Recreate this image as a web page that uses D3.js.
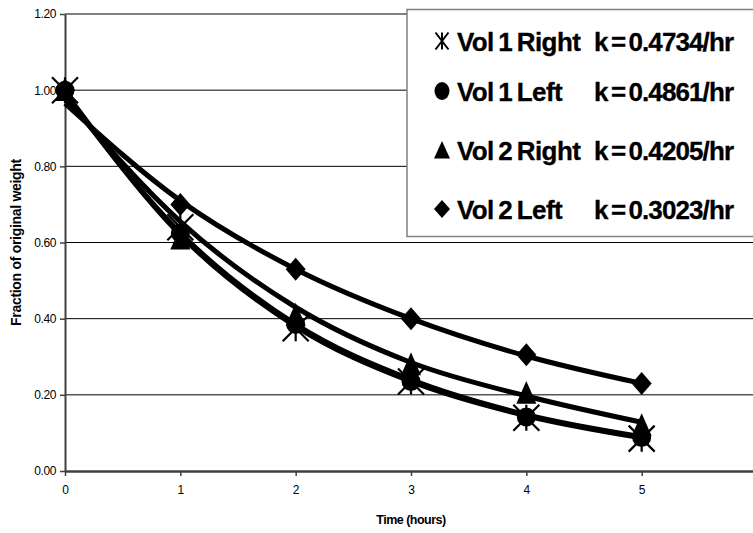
<!DOCTYPE html>
<html>
<head>
<meta charset="utf-8">
<script src="https://cdn.jsdelivr.net/npm/d3@7"></script>
<style>
  html, body { margin: 0; padding: 0; background: #fff; }
  svg { display: block; font-family: Arial, "Liberation Sans", sans-serif; }
</style>
</head>
<body>
<svg id="chart" width="753" height="533"></svg>
<script>
// ---------- data ----------
const hours = [0, 1, 2, 3, 4, 5];
const vol1Right = [1.00, 0.64, 0.375, 0.235, 0.14, 0.085];
const vol1Left  = [1.00, 0.625, 0.385, 0.235, 0.142, 0.088];
const vol2Right = [1.00, 0.61, 0.41, 0.28, 0.205, 0.12];
const vol2Left  = [1.00, 0.70, 0.53, 0.40, 0.305, 0.23];
// fitted curves
const trendVol1Right = [0.99, 0.625, 0.385, 0.24, 0.148, 0.09];
const trendVol1Left  = [0.995, 0.62, 0.38, 0.235, 0.145, 0.087];
const trendVol2Right = [0.98, 0.655, 0.43, 0.285, 0.197, 0.128];
const trendVol2Left  = [0.965, 0.71, 0.53, 0.40, 0.302, 0.23];
const seriesNames = ["Vol 1 Right", "Vol 1 Left", "Vol 2 Right", "Vol 2 Left"];
const rateLabels = ["k = 0.4734/hr", "k = 0.4861/hr", "k = 0.4205/hr", "k = 0.3023/hr"];
const markerTypes = ["star", "circle", "triangle", "diamond"];
const yTicks = [0.00, 0.20, 0.40, 0.60, 0.80, 1.00, 1.20];
const xTicks = [0, 1, 2, 3, 4, 5];
const xTitle = "Time (hours)";
const yTitle = "Fraction of original weight";

const series = [
  { name: seriesNames[0], k: rateLabels[0], marker: markerTypes[0], values: vol1Right, trend: trendVol1Right },
  { name: seriesNames[1], k: rateLabels[1], marker: markerTypes[1], values: vol1Left,  trend: trendVol1Left },
  { name: seriesNames[2], k: rateLabels[2], marker: markerTypes[2], values: vol2Right, trend: trendVol2Right },
  { name: seriesNames[3], k: rateLabels[3], marker: markerTypes[3], values: vol2Left,  trend: trendVol2Left }
];

// ---------- layout ----------
const svg = d3.select("#chart");
const plot = { left: 65, right: 757, top: 14, bottom: 471 };
const x = d3.scaleLinear().domain([0, 6]).range([plot.left, plot.right]);
const y = d3.scaleLinear().domain([0, 1.2]).range([plot.bottom, plot.top]);

// gridlines
svg.append("g").selectAll("line")
  .data(yTicks.filter(v => v > 0 && v < 1.2))
  .join("line")
  .attr("x1", plot.left).attr("x2", plot.right)
  .attr("y1", d => y(d)).attr("y2", d => y(d))
  .attr("stroke", "#000").attr("stroke-width", 1);

// plot border top
svg.append("line")
  .attr("x1", plot.left).attr("x2", plot.right)
  .attr("y1", y(1.2)).attr("y2", y(1.2))
  .attr("stroke", "#808080").attr("stroke-width", 2);

// y axis
const yAxis = d3.axisLeft(y).tickValues(yTicks).tickFormat(d3.format(".2f")).tickSize(5).tickSizeOuter(0);
const gy = svg.append("g").attr("transform", `translate(${plot.left},0)`).call(yAxis);
gy.select(".domain").attr("stroke", "#404040").attr("stroke-width", 2);
gy.selectAll(".tick line").attr("stroke", "#404040").attr("stroke-width", 1.5);
gy.selectAll(".tick text").attr("font-size", 12).attr("fill", "#000").attr("x", -9)
  .attr("font-family", "Arial, 'Liberation Sans', sans-serif").attr("letter-spacing", -0.4);

// x axis
const xAxis = d3.axisBottom(x).tickValues(xTicks).tickFormat(d3.format("d")).tickSize(5).tickSizeOuter(0);
const gx = svg.append("g").attr("transform", `translate(0,${plot.bottom})`).call(xAxis);
gx.select(".domain").attr("stroke", "#404040").attr("stroke-width", 2.5);
gx.selectAll(".tick line").attr("stroke", "#404040").attr("stroke-width", 1.5);
gx.selectAll(".tick text").attr("font-size", 12).attr("fill", "#000").attr("y", 14)
  .attr("font-family", "Arial, 'Liberation Sans', sans-serif");

// axis titles
svg.append("text")
  .attr("x", (plot.left + plot.right) / 2).attr("y", 524)
  .attr("text-anchor", "middle").attr("font-size", 12.5).attr("font-weight", "bold")
  .attr("letter-spacing", -0.5)
  .text(xTitle);
svg.append("text")
  .attr("transform", `translate(21,${(plot.top + plot.bottom) / 2}) rotate(-90)`)
  .attr("text-anchor", "middle").attr("font-size", 14).attr("font-weight", "bold")
  .attr("letter-spacing", -0.3)
  .text(yTitle);

// ---------- marks ----------
const line = d3.line()
  .x((d, i) => x(hours[i]))
  .y(d => y(d))
  .curve(d3.curveMonotoneX);

function drawMarker(g, type, cx, cy, s) {
  if (type === "circle") {
    g.append("circle").attr("cx", cx).attr("cy", cy).attr("r", 9.5 * s).attr("fill", "#000");
  } else if (type === "triangle") {
    const h = 12 * s, w = 10 * s;
    g.append("path").attr("d", `M${cx},${cy - h}L${cx + w},${cy + h * 0.9}L${cx - w},${cy + h * 0.9}Z`).attr("fill", "#000");
  } else if (type === "diamond") {
    const w = 10 * s, h = 11.5 * s;
    g.append("path").attr("d", `M${cx},${cy - h}L${cx + w},${cy}L${cx},${cy + h}L${cx - w},${cy}Z`).attr("fill", "#000");
  } else if (type === "star") {
    const a = 13 * s;
    g.append("path")
      .attr("d", `M${cx - a},${cy - a}L${cx + a},${cy + a}M${cx + a},${cy - a}L${cx - a},${cy + a}M${cx},${cy - a}L${cx},${cy + a}`)
      .attr("stroke", "#000").attr("stroke-width", 2.2 * s).attr("fill", "none");
  }
}

const marks = svg.append("g");
series.forEach(s => {
  marks.append("path")
    .attr("d", line(s.trend))
    .attr("fill", "none").attr("stroke", "#000").attr("stroke-width", 5)
    .attr("stroke-linejoin", "round");
});
series.forEach(s => {
  s.values.forEach((v, i) => drawMarker(marks, s.marker, x(hours[i]), y(v), 1));
});

// ---------- legend ----------
const legend = svg.append("g");
legend.append("rect")
  .attr("x", 407).attr("y", 9.5).attr("width", 360).attr("height", 227)
  .attr("fill", "#fff").attr("stroke", "#808080").attr("stroke-width", 1.5);
const rowY = [41, 91, 150, 209];
series.forEach((s, i) => {
  const cy = rowY[i];
  if (s.marker === "star") {
    legend.append("path")
      .attr("d", `M${442 - 6.5},${cy - 8.5}L${442 + 6.5},${cy + 8.5}M${442 + 6.5},${cy - 8.5}L${442 - 6.5},${cy + 8.5}M${442},${cy - 8.5}L${442},${cy + 8.5}`)
      .attr("stroke", "#000").attr("stroke-width", 2).attr("fill", "none");
  } else if (s.marker === "circle") {
    legend.append("ellipse").attr("cx", 442).attr("cy", cy).attr("rx", 7.5).attr("ry", 9).attr("fill", "#000");
  } else if (s.marker === "triangle") {
    legend.append("path").attr("d", `M442,${cy - 9}L${450},${cy + 8.5}L${434},${cy + 8.5}Z`).attr("fill", "#000");
  } else {
    legend.append("path").attr("d", `M442,${cy - 9}L${450},${cy}L442,${cy + 9}L${434},${cy}Z`).attr("fill", "#000");
  }
  legend.append("text")
    .attr("x", 457).attr("y", cy + 9.5)
    .attr("font-size", 26).attr("font-weight", "bold")
    .attr("letter-spacing", -0.6).attr("word-spacing", -2)
    .attr("stroke", "#000").attr("stroke-width", 0.3)
    .text(s.name);
  legend.append("text")
    .attr("x", 594).attr("y", cy + 9.5)
    .attr("font-size", 26).attr("font-weight", "bold")
    .attr("letter-spacing", -0.9).attr("word-spacing", -3)
    .attr("stroke", "#000").attr("stroke-width", 0.3)
    .text(s.k);
});
</script>
</body>
</html>
